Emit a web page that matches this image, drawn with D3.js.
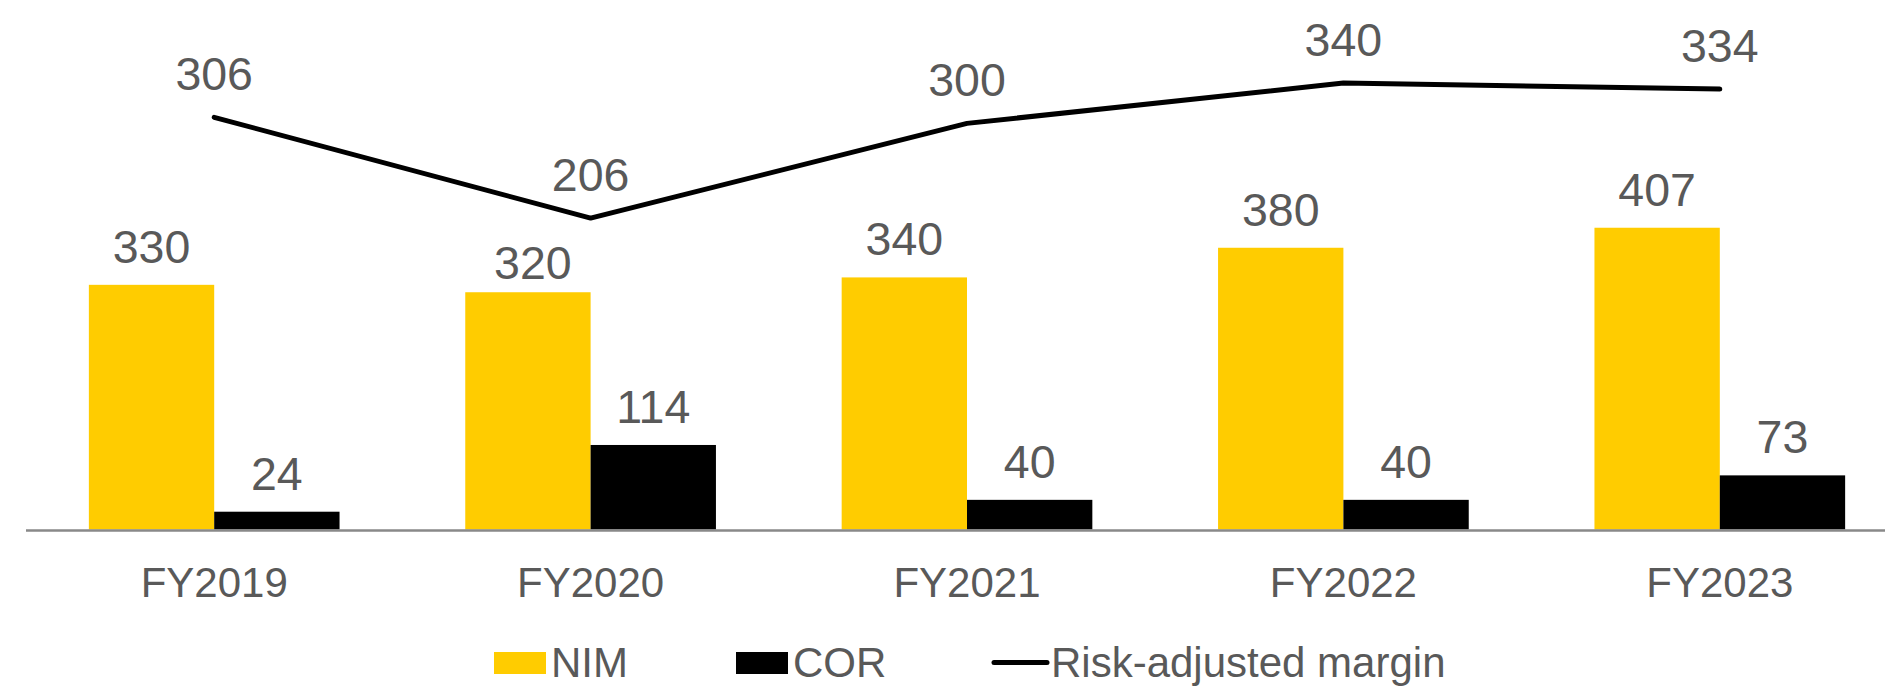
<!DOCTYPE html>
<html>
<head>
<meta charset="utf-8">
<script src="https://cdn.jsdelivr.net/npm/d3@7"></script>
<style>
  html, body { margin: 0; padding: 0; background: #fff; }
  svg { display: block; }
  text { font-family: "Liberation Sans", Arial, sans-serif; }
</style>
</head>
<body>
<svg id="chart" width="1885" height="687"></svg>
<script>
// ---- data ----
const categories = ["FY2019", "FY2020", "FY2021", "FY2022", "FY2023"];
const nim = [330, 320, 340, 380, 407];
const cor = [24, 114, 40, 40, 73];
const riskAdjusted = [306, 206, 300, 340, 334];
const seriesNames = ["NIM", "COR", "Risk-adjusted margin"];

// ---- layout ----
const W = 1885, H = 687;
const baseY = 529.5, topY = 10.5;
const colors = { NIM: "#FFCC00", COR: "#000000", line: "#000000" };
const labelColor = "#595959";
const labelNudge = { "FY2020": { dx: 5, dy: 8.5 } }; // NIM label placement tweak

const svg = d3.select("#chart");

const x0 = d3.scaleBand().domain(categories).range([26, 1908])
  .paddingInner(0.334).paddingOuter(0.167);
const x1 = d3.scaleBand().domain(["NIM", "COR"]).range([0, x0.bandwidth()]).padding(0);
const y = d3.scaleLinear().domain([0, 700]).range([baseY, topY]);
const y2 = d3.scaleLinear().domain([-103, 412]).range([baseY, topY]);

const rows = categories.map((c, i) => ({ cat: c, NIM: nim[i], COR: cor[i], RAM: riskAdjusted[i] }));

// bars
const groups = svg.append("g").selectAll("g").data(rows).join("g")
  .attr("transform", d => `translate(${x0(d.cat)},0)`);

groups.selectAll("rect").data(d => ["NIM", "COR"].map(k => ({ key: k, value: d[k], cat: d.cat })))
  .join("rect")
  .attr("x", d => x1(d.key))
  .attr("width", x1.bandwidth())
  .attr("y", d => y(d.value))
  .attr("height", d => y(0) - y(d.value))
  .attr("fill", d => colors[d.key]);

// bar labels
groups.selectAll("text.bl").data(d => ["NIM", "COR"].map(k => ({ key: k, value: d[k], cat: d.cat })))
  .join("text")
  .attr("class", "bl")
  .attr("x", d => x1(d.key) + x1.bandwidth() / 2 + (d.key === "NIM" && labelNudge[d.cat] ? labelNudge[d.cat].dx : 0))
  .attr("y", d => y(d.value) - 22 + (d.key === "NIM" && labelNudge[d.cat] ? labelNudge[d.cat].dy : 0))
  .attr("text-anchor", "middle")
  .attr("font-size", 46.5)
  .attr("fill", labelColor)
  .text(d => d.value);

// x axis baseline
const xAxis = d3.axisBottom(x0).tickSize(0).tickPadding(0);
const axisG = svg.append("g").attr("transform", `translate(0,${baseY + 1})`).call(xAxis);
axisG.select(".domain").remove();
axisG.append("line")
  .attr("x1", 26).attr("x2", W)
  .attr("y1", 0).attr("y2", 0)
  .attr("stroke", "#898989").attr("stroke-width", 2.5);
axisG.selectAll(".tick text")
  .attr("font-size", 42)
  .attr("fill", labelColor)
  .attr("dy", null)
  .attr("y", 66)
  .style("font-family", '"Liberation Sans", Arial, sans-serif');

// line
const cx = c => x0(c) + x0.bandwidth() / 2;
const line = d3.line().x(d => cx(d.cat)).y(d => y2(d.RAM));
svg.append("path").datum(rows)
  .attr("d", line)
  .attr("fill", "none")
  .attr("stroke", colors.line)
  .attr("stroke-width", 5)
  .attr("stroke-linecap", "round")
  .attr("stroke-linejoin", "round");

svg.append("g").selectAll("text").data(rows).join("text")
  .attr("x", d => cx(d.cat))
  .attr("y", d => y2(d.RAM) - 27.5)
  .attr("text-anchor", "middle")
  .attr("font-size", 46.5)
  .attr("fill", labelColor)
  .text(d => d.RAM);

// legend
const lg = svg.append("g").attr("transform", "translate(0,-3)");
const legendY = 680;
lg.append("rect").attr("x", 494).attr("y", 655).attr("width", 52).attr("height", 22).attr("fill", colors.NIM);
lg.append("text").attr("x", 551).attr("y", legendY).attr("font-size", 42).attr("fill", labelColor).text(seriesNames[0]);
lg.append("rect").attr("x", 736).attr("y", 655).attr("width", 52).attr("height", 22).attr("fill", colors.COR);
lg.append("text").attr("x", 793).attr("y", legendY).attr("font-size", 42).attr("fill", labelColor).text(seriesNames[1]);
lg.append("line").attr("x1", 994).attr("x2", 1047).attr("y1", 665.5).attr("y2", 665.5)
  .attr("stroke", colors.line).attr("stroke-width", 5).attr("stroke-linecap", "round");
lg.append("text").attr("x", 1051).attr("y", legendY).attr("font-size", 42).attr("fill", labelColor).text(seriesNames[2]);
</script>
</body>
</html>
